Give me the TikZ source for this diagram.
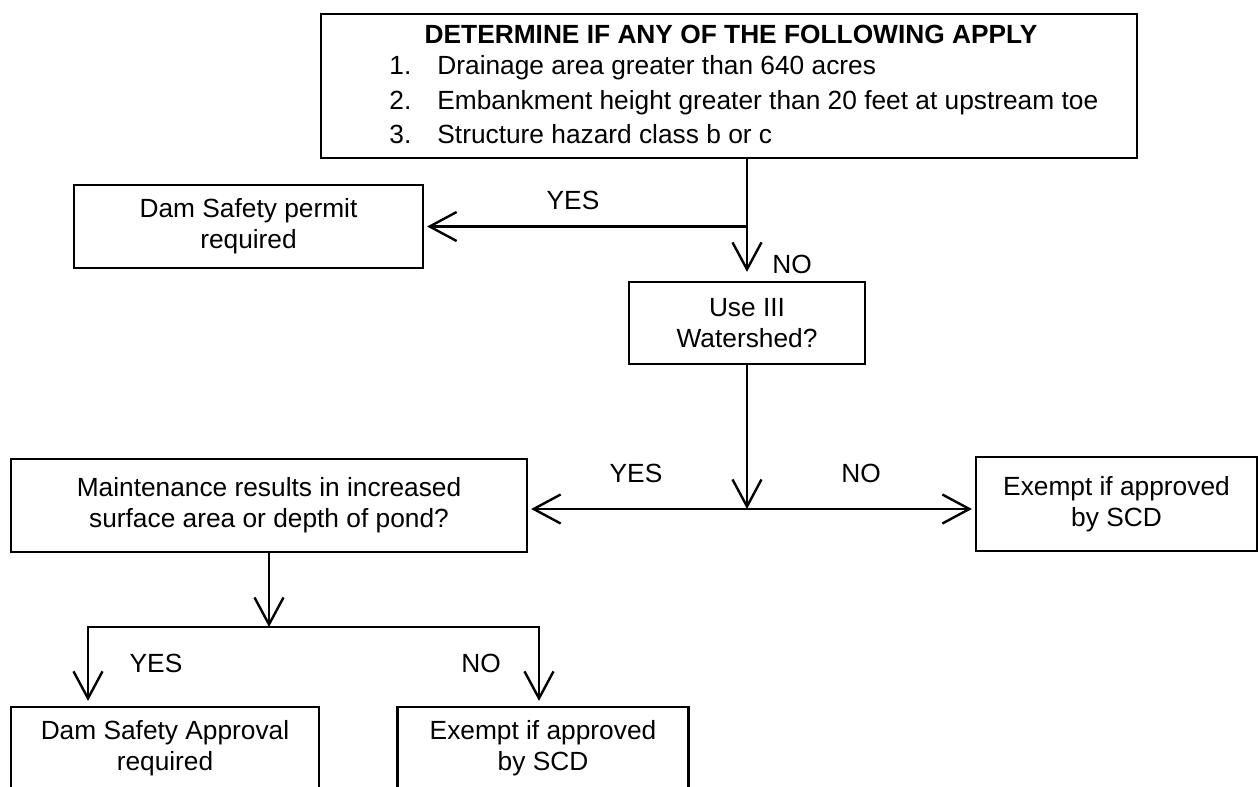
\documentclass[tikz,border=0pt]{standalone}
\usepackage{fontspec}
\setmainfont{Liberation Sans}
\usetikzlibrary{arrows.meta}
\begin{document}
\begin{tikzpicture}[x=0.5pt,y=-0.5pt,
  font=\fontsize{13.15pt}{15.5pt}\selectfont,
  box/.style={draw, line width=1.1pt, inner sep=0pt, align=center},
  ln/.style={line width=1.2pt},
  tipv/.tip={Straight Barb[length=13.5pt,width=14.5pt,line width=1.2pt]},
  arr/.style={ln, -tipv},
  lbl/.style={inner sep=0pt}]
\clip (0,0) rectangle (1259,787);
\fill[white] (0,0) rectangle (1259,787);

% boxes
\node[box, minimum width=408pt, minimum height=72pt] (top) at (729,86) {};
\node[lbl, anchor=base, font=\fontsize{13.15pt}{15.5pt}\selectfont\bfseries] (title) at (731,43) {DETERMINE IF ANY OF THE FOLLOWING APPLY};
\node[lbl, anchor=base west] (n1) at (389,75) {1.};
\node[lbl, anchor=base west] (t1) at (437,75) {Drainage area greater than 640 acres};
\node[lbl, anchor=base west] (n2) at (389,109) {2.};
\node[lbl, anchor=base west] (t2) at (437,109) {Embankment height greater than 20 feet at upstream toe};
\node[lbl, anchor=base west] (n3) at (389,143) {3.};
\node[lbl, anchor=base west] (t3) at (437,143) {Structure hazard class b or c};

\node[box, minimum width=174.5pt, minimum height=41.5pt] (dam) at (248.5,226.5) {Dam Safety permit\\required};
\node[box, minimum width=118pt, minimum height=41pt] (use) at (747,323) {Use III\\Watershed?};
\node[box, minimum width=258pt, minimum height=46.5pt] (maint) at (269,505.5) {Maintenance results in increased\\surface area or depth of pond?};
\node[box, minimum width=140.5pt, minimum height=47pt] (ex1) at (1116.5,504) {Exempt if approved\\by SCD};
\node[box, minimum width=154pt, minimum height=41pt] (dsa) at (165,748) {Dam Safety Approval\\required};
\node[box, minimum width=145.5pt, minimum height=41pt] (ex2) at (543,748) {Exempt if approved\\by SCD};

% connectors
\draw[arr, shorten >=4.5pt] (use.north |- top.south) -- (use.north);
\draw[arr, shorten >=1.5pt] (use.north |- dam.east) -- (dam.east);
\coordinate (j1) at (747,509);
\draw[arr] (use.south) -- (j1);
\draw[ln, tipv-tipv, shorten >=1.5pt, shorten <=1.5pt] (maint.east |- j1) -- (ex1.west |- j1);
\coordinate (j2) at (269,627);
\coordinate (bl) at (88,627);
\coordinate (br) at (539,627);
\draw[arr] (maint.south) -- (j2);
\draw[arr, shorten >=2.5pt] (j2) -| (bl |- dsa.north);
\draw[arr, shorten >=2.5pt] (j2) -| (br |- ex2.north);

% labels
\node[lbl] (yes1) at (573,200) {YES};
\node[lbl] (no1) at (792,264) {NO};
\node[lbl] (yes2) at (636,473) {YES};
\node[lbl] (no2) at (861,473) {NO};
\node[lbl] (yes3) at (156,663) {YES};
\node[lbl] (no3) at (481,663) {NO};
\end{tikzpicture}
\end{document}
